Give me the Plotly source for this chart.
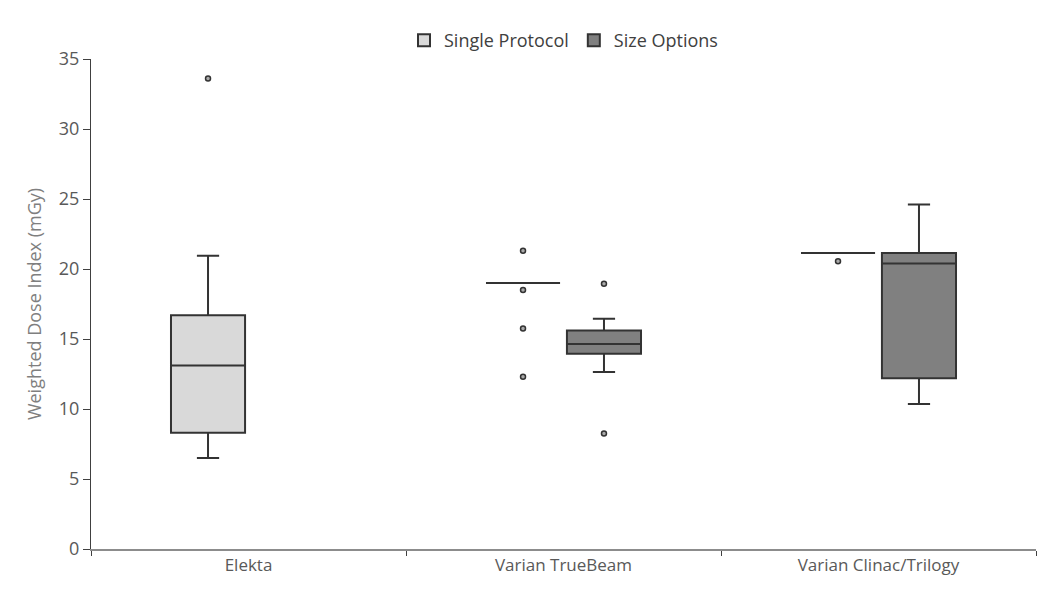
import plotly.graph_objects as go

categories = ["Elekta", "Varian TrueBeam", "Varian Clinac/Trilogy"]

# Single Protocol (precomputed box stats)
sp_x = ["Elekta", "Varian TrueBeam", "Varian Clinac/Trilogy"]
sp_lower = [6.5, 19.0, 21.15]
sp_q1 = [8.3, 19.0, 21.15]
sp_median = [13.1, 19.0, 21.15]
sp_q3 = [16.7, 19.0, 21.15]
sp_upper = [20.95, 19.0, 21.15]
sp_outliers = [[33.6], [21.3, 18.5, 15.75, 12.3], [20.55]]

# Size Options
so_x = ["Varian TrueBeam", "Varian Clinac/Trilogy"]
so_lower = [12.65, 10.35]
so_q1 = [13.95, 12.2]
so_median = [14.65, 20.4]
so_q3 = [15.6, 21.15]
so_upper = [16.45, 24.6]
so_outliers = [[18.95, 8.25], []]

line_col = "#333333"
marker = dict(symbol="circle", size=5, color="#aaaaaa",
              line=dict(width=1.5, color="#333333"))
fig = go.Figure()
fig.add_trace(go.Box(
    name="Single Protocol", x=sp_x, y=sp_outliers,
    q1=sp_q1, median=sp_median, q3=sp_q3,
    lowerfence=sp_lower, upperfence=sp_upper,
    boxpoints="outliers", jitter=0, pointpos=0,
    fillcolor="#d9d9d9", line=dict(color=line_col, width=2),
    whiskerwidth=0.3, marker=marker, hoverinfo="skip",
))
fig.add_trace(go.Box(
    name="Size Options", x=so_x, y=so_outliers,
    q1=so_q1, median=so_median, q3=so_q3,
    lowerfence=so_lower, upperfence=so_upper,
    boxpoints="outliers", jitter=0, pointpos=0,
    fillcolor="#808080", line=dict(color=line_col, width=2),
    whiskerwidth=0.3, marker=marker, hoverinfo="skip",
))

fig.update_layout(
    width=1038, height=581,
    paper_bgcolor="white", plot_bgcolor="white",
    boxmode="group", boxgap=0.486, boxgroupgap=0.085,
    margin=dict(l=83, r=10, t=51, b=40),
    font=dict(family="Open Sans", color="#595959", size=15),
    legend=dict(orientation="h", x=0.5, xanchor="center", y=1.0, yanchor="bottom",
                yref="paper", font=dict(size=18, color="#404040"),
                itemwidth=30, traceorder="normal"),
    showlegend=True,
)
fig.update_xaxes(
    type="category", categoryorder="array", categoryarray=categories,
    range=[-0.5, 2.5], showline=True, linecolor="#8c8c8c", linewidth=1.5,
    ticks="outside", tickson="boundaries", ticklen=5, tickcolor="#404040",
    showgrid=False, zeroline=False, tickfont=dict(size=17, color="#595959"),
)
fig.update_yaxes(
    range=[0, 35], dtick=5, showline=True, linecolor="#404040", linewidth=1.2,
    ticks="outside", ticklen=7, tickcolor="#404040", showgrid=False, zeroline=False,
    tickfont=dict(size=18, color="#595959"),
    title=dict(text="Weighted Dose Index (mGy)", font=dict(size=18, color="#7f7f7f"), standoff=12),
)
fig.write_html("out.html")
